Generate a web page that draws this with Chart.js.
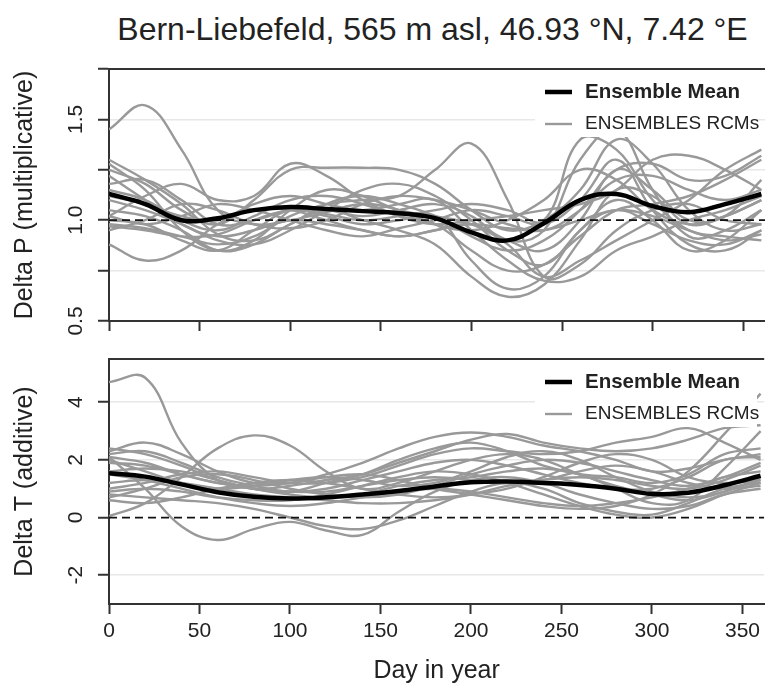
<!DOCTYPE html>
<html>
<head>
<meta charset="utf-8">
<script src="https://cdn.jsdelivr.net/npm/chart.js@4.4.0/dist/chart.umd.min.js"></script>
<style>
html, body { margin: 0; padding: 0; background: #fff; overflow: hidden; }
#wrap { position: relative; width: 765px; height: 686px; overflow: hidden; }
#title { position: absolute; left: 0; width: 865px; top: 11px; text-align: center; line-height: 38px;
	font: 32px "Liberation Sans", Arial, sans-serif; color: #222; white-space: nowrap; }
canvas { position: absolute; left: 0; }
</style>
</head>
<body>
<div id="wrap">
	<div id="title">Bern-Liebefeld, 565 m asl, 46.93 °N, 7.42 °E</div>
	<canvas id="pChart" width="765" height="340" style="top:0"></canvas>
	<canvas id="tChart" width="765" height="346" style="top:340px"></canvas>
</div>
<script>
// day in year of each sample
const days = [0, 20, 40, 60, 80, 100, 120, 140, 160, 180, 200, 220, 240, 260, 280, 300, 320, 340, 360]
const xTicks = [0, 50, 100, 150, 200, 250, 300, 350]

// Delta P (multiplicative)
const pMean = [1.13, 1.08, 1.00, 1.01, 1.05, 1.065, 1.055, 1.045, 1.035, 1.01, 0.94, 0.90, 0.985, 1.10, 1.13, 1.07, 1.04, 1.08, 1.13]
const pRcm01 = [1.45, 1.57, 1.35, 1.05, 0.98, 1.00, 1.04, 1.08, 1.05, 0.98, 0.95, 1.00, 1.10, 1.25, 1.20, 1.05, 0.98, 1.02, 1.10]
const pRcm02 = [0.88, 0.80, 0.85, 0.98, 1.05, 1.05, 1.00, 0.95, 0.92, 0.95, 0.98, 0.96, 0.95, 1.00, 1.05, 1.02, 0.95, 0.90, 0.93]
const pRcm03 = [1.30, 1.20, 1.08, 0.93, 0.90, 0.98, 1.08, 1.12, 1.08, 1.02, 0.92, 0.85, 0.90, 1.05, 1.25, 1.28, 1.20, 1.22, 1.32]
const pRcm04 = [1.28, 1.15, 0.95, 0.85, 0.90, 1.05, 1.15, 1.12, 1.05, 1.02, 0.98, 0.88, 0.72, 0.80, 0.90, 1.00, 1.10, 1.25, 1.35]
const pRcm05 = [1.25, 1.18, 1.05, 0.98, 1.10, 1.25, 1.26, 1.26, 1.25, 1.18, 1.05, 0.95, 1.00, 1.15, 1.40, 1.28, 1.05, 0.95, 0.98]
const pRcm06 = [1.02, 1.12, 1.18, 1.10, 1.12, 1.28, 1.22, 1.10, 1.02, 0.98, 1.00, 1.02, 1.05, 1.08, 1.15, 1.30, 1.32, 1.25, 1.15]
const pRcm07 = [0.98, 0.96, 0.92, 0.88, 0.92, 1.02, 1.08, 1.10, 1.12, 1.25, 1.38, 1.10, 0.72, 0.78, 0.95, 1.05, 1.08, 1.00, 0.98]
const pRcm08 = [1.05, 1.02, 0.95, 0.85, 0.88, 0.98, 1.05, 1.00, 0.95, 0.88, 0.72, 0.62, 0.68, 0.90, 1.15, 1.12, 0.98, 1.02, 1.10]
const pRcm09 = [1.00, 0.98, 0.90, 0.85, 0.95, 1.05, 1.02, 0.98, 1.00, 1.02, 0.80, 0.66, 0.72, 0.95, 1.05, 0.98, 0.90, 0.88, 0.95]
const pRcm10 = [1.18, 1.20, 1.10, 0.98, 1.00, 1.05, 1.05, 1.02, 1.05, 1.08, 1.02, 0.90, 0.95, 1.30, 1.45, 1.15, 0.92, 0.95, 1.05]
const pRcm11 = [0.95, 1.00, 1.08, 1.05, 0.98, 0.96, 1.00, 1.08, 1.12, 1.10, 1.05, 0.98, 0.95, 1.05, 1.20, 1.22, 1.15, 1.10, 1.15]
const pRcm12 = [1.10, 1.05, 0.98, 0.90, 0.88, 0.95, 1.05, 1.15, 1.18, 1.12, 1.00, 0.85, 0.78, 0.95, 1.10, 1.00, 0.85, 0.90, 1.05]
const pRcm13 = [1.22, 1.10, 0.98, 0.92, 0.95, 1.00, 0.98, 0.95, 0.92, 0.95, 0.98, 0.90, 0.85, 1.00, 1.25, 1.15, 1.00, 1.02, 1.20]
const pRcm14 = [0.97, 0.95, 0.92, 0.93, 1.00, 1.05, 1.03, 1.00, 1.02, 1.05, 1.08, 1.05, 1.00, 1.40, 1.35, 1.10, 0.95, 0.92, 0.90]
const pRcm15 = [1.15, 1.10, 1.00, 0.95, 1.02, 1.10, 1.12, 1.08, 1.02, 0.98, 0.85, 0.75, 0.78, 0.92, 1.05, 1.08, 1.12, 1.20, 1.30]
const pRcm16 = [1.02, 0.98, 1.02, 1.08, 1.05, 1.00, 0.95, 0.92, 0.96, 1.00, 1.05, 1.02, 0.98, 1.10, 1.30, 1.05, 0.88, 0.85, 0.95]
const pRcm17 = [1.12, 1.08, 1.02, 1.00, 1.08, 1.12, 1.08, 1.05, 1.08, 1.10, 0.95, 0.80, 0.70, 0.72, 0.85, 0.92, 1.00, 1.05, 1.12]
const pRcms = [pRcm01, pRcm02, pRcm03, pRcm04, pRcm05, pRcm06, pRcm07, pRcm08, pRcm09, pRcm10, pRcm11, pRcm12, pRcm13, pRcm14, pRcm15, pRcm16, pRcm17]
const pRef = 1.0
const pTicks = [0.5, 0.75, 1.0, 1.25, 1.5, 1.75]
const pTickLabels = [0.5, 1.0, 1.5]
const pGridLines = [0.75, 1.25, 1.5]

// Delta T (additive)
const tMean = [1.54, 1.42, 1.15, 0.88, 0.72, 0.66, 0.70, 0.80, 0.92, 1.08, 1.22, 1.25, 1.20, 1.13, 1.00, 0.82, 0.86, 1.12, 1.45]
const tRcm01 = [4.70, 4.85, 2.60, 1.30, 1.00, 0.90, 1.20, 1.50, 2.00, 2.40, 2.60, 2.30, 1.80, 1.50, 1.40, 1.20, 1.50, 2.20, 2.40]
const tRcm02 = [0.05, 0.50, 1.40, 2.40, 2.85, 2.50, 1.60, 1.00, 1.20, 1.60, 2.00, 2.20, 2.00, 1.50, 1.10, 0.80, 0.60, 0.90, 1.30]
const tRcm03 = [2.10, 1.00, -0.30, -0.78, -0.40, -0.15, -0.45, -0.60, 0.20, 0.90, 1.30, 1.40, 1.20, 0.80, 0.50, 0.30, 0.40, 0.80, 1.00]
const tRcm04 = [0.80, 0.70, 0.60, 0.50, 0.30, 0.00, -0.30, -0.40, -0.10, 0.40, 0.90, 1.20, 1.00, 0.50, 0.20, 0.10, 0.50, 1.00, 1.20]
const tRcm05 = [2.30, 2.60, 2.20, 1.60, 1.20, 1.20, 1.50, 1.90, 2.40, 2.80, 2.95, 2.80, 2.50, 2.30, 2.00, 1.60, 1.70, 2.00, 2.20]
const tRcm06 = [2.40, 2.20, 1.80, 1.30, 1.00, 1.10, 1.30, 1.50, 1.90, 2.30, 2.70, 2.90, 2.60, 2.40, 2.30, 2.40, 2.70, 3.10, 3.20]
const tRcm07 = [2.20, 2.30, 1.90, 1.40, 1.10, 0.90, 1.00, 1.30, 1.60, 1.90, 2.00, 1.80, 1.50, 1.20, 1.00, 1.00, 1.40, 2.00, 2.10]
const tRcm08 = [1.90, 1.80, 1.50, 1.20, 1.00, 0.90, 0.90, 1.10, 1.30, 1.40, 1.30, 1.20, 1.30, 1.60, 1.80, 1.60, 1.20, 1.00, 1.10]
const tRcm09 = [0.70, 1.00, 1.40, 1.50, 1.30, 1.00, 0.80, 0.70, 0.80, 1.10, 1.50, 1.80, 2.00, 1.90, 1.60, 1.30, 1.10, 1.40, 1.90]
const tRcm10 = [1.50, 1.30, 1.00, 0.70, 0.50, 0.40, 0.50, 0.70, 0.90, 1.00, 0.90, 0.70, 0.50, 0.40, 0.50, 0.70, 1.00, 1.40, 1.60]
const tRcm11 = [0.90, 1.00, 0.90, 0.70, 0.60, 0.60, 0.80, 1.10, 1.40, 1.60, 1.50, 1.20, 0.80, 0.40, 0.10, 0.00, 0.30, 0.80, 1.20]
const tRcm12 = [2.10, 1.90, 1.50, 1.20, 1.10, 1.20, 1.40, 1.50, 1.30, 1.00, 0.80, 0.60, 0.40, 0.30, 0.40, 0.80, 1.60, 2.90, 4.30]
const tRcm13 = [1.00, 1.20, 1.50, 1.60, 1.40, 1.20, 1.20, 1.40, 1.80, 2.20, 2.40, 2.30, 2.20, 2.30, 2.60, 2.80, 3.10, 2.60, 2.00]
const tRcm14 = [0.60, 0.50, 0.70, 1.00, 1.20, 1.30, 1.20, 1.00, 0.80, 0.70, 0.80, 1.00, 1.40, 1.90, 2.20, 2.00, 1.40, 1.20, 1.30]
const tRcm15 = [1.60, 1.70, 1.60, 1.30, 1.00, 0.80, 0.70, 0.80, 1.10, 1.30, 1.40, 1.60, 1.70, 1.50, 1.00, 0.50, 0.60, 1.70, 3.00]
const tRcm16 = [2.00, 1.60, 1.20, 1.00, 1.10, 1.30, 1.40, 1.30, 1.10, 1.20, 1.60, 2.10, 2.30, 2.00, 1.40, 0.90, 0.70, 0.90, 1.40]
const tRcm17 = [1.20, 1.30, 1.20, 1.00, 0.80, 0.70, 0.60, 0.50, 0.50, 0.60, 0.80, 1.10, 1.30, 1.40, 1.30, 1.10, 1.00, 1.30, 1.80]
const tRcms = [tRcm01, tRcm02, tRcm03, tRcm04, tRcm05, tRcm06, tRcm07, tRcm08, tRcm09, tRcm10, tRcm11, tRcm12, tRcm13, tRcm14, tRcm15, tRcm16, tRcm17]
const tRef = 0
const tTicks = [-2, 0, 2, 4]
const tTickLabels = [-2, 0, 2, 4]
const tGridLines = [-2, 2, 4]

const fontFamily = '"Liberation Sans", Arial, Helvetica, sans-serif'
const axisColor = "#333"
const textColor = "#222"
const rcmColor = "#999"
const xMax = 362

function toPoints(values) {
	return days.map((d, i) => ({ x: d, y: values[i] }))
}

function buildDatasets(mean, rcms, ref) {
	const sets = [
		{ label: "Ensemble Mean", data: toPoints(mean), borderColor: "#000", borderWidth: 4.5 },
		{ label: "ref", data: [{ x: 0, y: ref }, { x: xMax, y: ref }], borderColor: "#111", borderWidth: 1.8, borderDash: [8, 5], tension: 0 },
	]
	rcms.forEach((values, i) => {
		sets.push({ label: "RCM " + (i + 1), data: toPoints(values), borderColor: rcmColor, borderWidth: 2.4 })
	})
	return sets
}

function decorations(yTitle, labelValues, fmt) {
	return {
		id: "decorations",
		afterDatasetsDraw(chart) {
			const { ctx, chartArea: a } = chart
			ctx.save()
			ctx.strokeStyle = axisColor
			ctx.lineWidth = 2
			ctx.beginPath()
			ctx.moveTo(a.left, a.top)
			ctx.lineTo(a.right, a.top)
			ctx.stroke()

			// legend box in the top right corner
			const boxLeft = 535
			const boxRight = 757
			ctx.fillStyle = "#fff"
			ctx.fillRect(boxLeft, a.top + 2, boxRight - boxLeft, 66)
			const y1 = a.top + 23
			const y2 = a.top + 55
			ctx.lineCap = "butt"
			ctx.strokeStyle = "#000"
			ctx.lineWidth = 4.5
			ctx.beginPath()
			ctx.moveTo(545, y1)
			ctx.lineTo(572, y1)
			ctx.stroke()
			ctx.strokeStyle = rcmColor
			ctx.lineWidth = 2.4
			ctx.beginPath()
			ctx.moveTo(545, y2)
			ctx.lineTo(572, y2)
			ctx.stroke()
			ctx.fillStyle = textColor
			ctx.textBaseline = "middle"
			ctx.textAlign = "left"
			ctx.font = "bold 20.5px " + fontFamily
			ctx.fillText("Ensemble Mean", 585, y1)
			ctx.font = "19px " + fontFamily
			ctx.fillText("ENSEMBLES RCMs", 585, y2)
			ctx.restore()
		},
		afterDraw(chart) {
			const { ctx, chartArea: a } = chart
			const yScale = chart.scales.y
			ctx.save()
			ctx.fillStyle = textColor
			ctx.textAlign = "center"
			ctx.textBaseline = "middle"
			ctx.font = "21px " + fontFamily
			labelValues.forEach((v) => {
				ctx.save()
				ctx.translate(76, yScale.getPixelForValue(v))
				ctx.rotate(-Math.PI / 2)
				ctx.fillText(fmt(v), 0, 0)
				ctx.restore()
			})
			ctx.font = "25px " + fontFamily
			ctx.translate(25, (a.top + a.bottom) / 2)
			ctx.rotate(-Math.PI / 2)
			ctx.fillText(yTitle, 0, 0)
			ctx.restore()
		},
	}
}

function buildChart(id, opts) {
	const ctx = document.getElementById(id)
	return new Chart(ctx, {
		type: "line",
		data: { datasets: buildDatasets(opts.mean, opts.rcms, opts.ref) },
		options: {
			responsive: false,
			animation: false,
			layout: { padding: { top: opts.padTop, left: 0, right: 0, bottom: 0 } },
			plugins: { legend: { display: false }, tooltip: { enabled: false } },
			elements: { point: { radius: 0 }, line: { tension: 0.4 } },
			scales: {
				x: {
					type: "linear",
					min: 0,
					max: xMax,
					afterBuildTicks: (s) => { s.ticks = xTicks.map((v) => ({ value: v })) },
					afterFit: (s) => { s.height = opts.xHeight },
					grid: { drawOnChartArea: false, tickLength: 10, tickColor: axisColor, tickWidth: 2 },
					border: { color: axisColor, width: 2 },
					ticks: {
						display: opts.showX,
						autoSkip: false,
						maxRotation: 0,
						padding: 5,
						color: textColor,
						font: { size: 21, family: fontFamily },
					},
					title: {
						display: opts.showX,
						text: "Day in year",
						color: textColor,
						padding: 0,
						font: { size: 25, family: fontFamily },
					},
				},
				y: {
					type: "linear",
					min: opts.yMin,
					max: opts.yMax,
					afterBuildTicks: (s) => { s.ticks = opts.yTicks.map((v) => ({ value: v })) },
					afterFit: (s) => { s.width = 109 },
					grid: {
						color: (c) => (c.tick && opts.gridLines.includes(c.tick.value) ? "#e8e8e8" : "rgba(0,0,0,0)"),
						lineWidth: 1.5,
						tickLength: 11,
						tickColor: axisColor,
						tickWidth: 2,
					},
					border: { color: axisColor, width: 2 },
					ticks: { display: false },
				},
			},
		},
		plugins: [decorations(opts.yTitle, opts.labelValues, opts.fmt)],
	})
}

buildChart("pChart", {
	mean: pMean, rcms: pRcms, ref: pRef,
	padTop: 69, xHeight: 19, showX: false,
	yMin: 0.5, yMax: 1.75, yTicks: pTicks, gridLines: pGridLines,
	labelValues: pTickLabels, fmt: (v) => v.toFixed(1),
	yTitle: "Delta P (multiplicative)",
})

buildChart("tChart", {
	mean: tMean, rcms: tRcms, ref: tRef,
	padTop: 19, xHeight: 82, showX: true,
	yMin: -3, yMax: 5.5, yTicks: tTicks, gridLines: tGridLines,
	labelValues: tTickLabels, fmt: (v) => String(v),
	yTitle: "Delta T (additive)",
})
</script>
</body>
</html>
